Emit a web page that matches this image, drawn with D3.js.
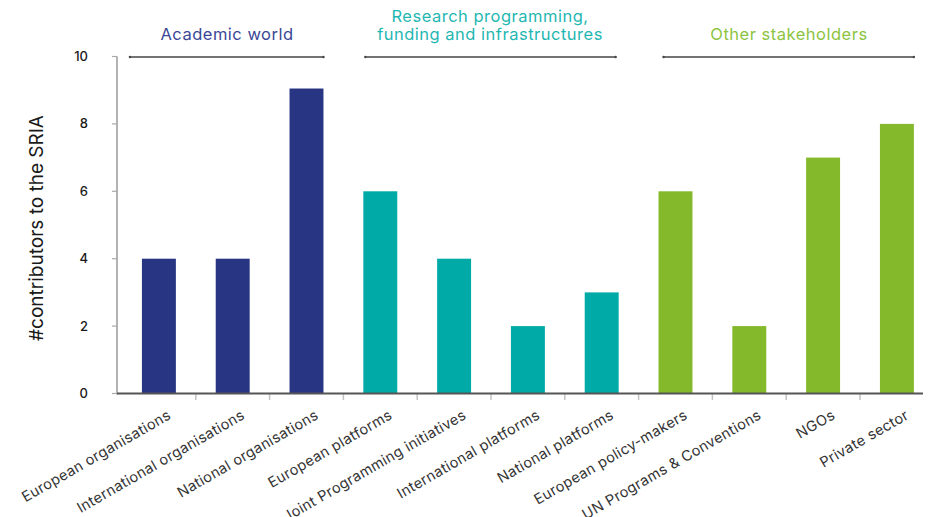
<!DOCTYPE html>
<html><head><meta charset="utf-8">
<script src="https://cdn.jsdelivr.net/npm/d3@7"></script>
<style>body{margin:0;background:#fff}svg{display:block}text{font-family:Inter,"Open Sans",sans-serif}</style>
</head><body><svg id="c" width="928" height="517"></svg>
<script>
const categories = ["European organisations","International organisations","National organisations","European platforms","Joint Programming initiatives","International platforms","National platforms","European policy-makers","UN Programs & Conventions","NGOs","Private sector"];
const values = [4,4,9.05,6,4,2,3,6,2,7,8];
const groupOf = [0,0,0,1,1,1,1,2,2,2,2];
const groupNames = [["Academic world"],["Research programming,","funding and infrastructures"],["Other stakeholders"]];
const groupFirst = [0,3,7];
const groupLast = [2,6,10];
const yTicks = [0,2,4,6,8,10];
const yLabel = "#contributors to the SRIA";

const barColors = ["#283583","#00aaa7","#83b92a"];
const titleColors = ["#3a4796","#1fb7b2","#8cc43f"];
const lineAdj = [[-12,0],[2,-3],[5,0]];
const titleX = [227,490,789];

const svg = d3.select("#c");
const x = d3.scaleBand().domain(categories).range([122, 933.8]).paddingInner(0.54).paddingOuter(0.27);
const y = d3.scaleLinear().domain([0,10]).range([393.5,56.5]);
const bw = x.bandwidth(), step = x.step();

// y axis
svg.append("line").attr("x1",117).attr("x2",117).attr("y1",y(10)).attr("y2",y(0)+1).attr("stroke","#8a8a8a").attr("stroke-width",1.3);
const yt = svg.append("g");
yt.selectAll("line").data(yTicks).join("line").attr("x1",112).attr("x2",117).attr("y1",d=>y(d)).attr("y2",d=>y(d)).attr("stroke","#aaa").attr("stroke-width",1.2);
yt.selectAll("text").data(yTicks).join("text").attr("x",88).attr("y",d=>y(d)+4.5).attr("text-anchor","end").attr("font-size",13).attr("font-weight",500).attr("fill","#1a1a1a").text(d=>d);

svg.append("text").attr("transform","translate(43,228) rotate(-90)").attr("text-anchor","middle").attr("font-size",19).attr("fill","#1a1a1a").text(yLabel);

// bars
svg.append("g").selectAll("rect").data(categories).join("rect")
  .attr("x",d=>x(d)).attr("width",bw)
  .attr("y",(d,i)=>y(values[i])).attr("height",(d,i)=>y(0)-y(values[i]))
  .attr("fill",(d,i)=>barColors[groupOf[i]]);

// x baseline and ticks
svg.append("g").selectAll("line").data(categories.slice(0,-1)).join("line")
  .attr("x1",d=>x(d)+bw+(step-bw)/2).attr("x2",d=>x(d)+bw+(step-bw)/2)
  .attr("y1",394).attr("y2",400).attr("stroke","#c4c4c4").attr("stroke-width",1.5);
svg.append("line").attr("x1",117).attr("x2",923).attr("y1",y(0)).attr("y2",y(0)).attr("stroke","#555").attr("stroke-width",1.8);

// x labels
svg.append("g").selectAll("text").data(categories).join("text")
  .attr("transform",d=>`translate(${x(d)+bw/2+13},${418}) rotate(-30)`)
  .attr("text-anchor","end").attr("font-size",14.5).attr("letter-spacing",0.35).attr("fill","#333").text(d=>d);

// group titles and lines
groupNames.forEach((g,gi)=>{
  const x0 = x(categories[groupFirst[gi]])+lineAdj[gi][0];
  const x1 = x(categories[groupLast[gi]])+bw+lineAdj[gi][1];
  svg.append("line").attr("x1",x0).attr("x2",x1).attr("y1",57).attr("y2",57).attr("stroke","#444").attr("stroke-width",1.3);
  svg.append("circle").attr("cx",x0).attr("cy",57).attr("r",1.2).attr("fill","#444");
  svg.append("circle").attr("cx",x1).attr("cy",57).attr("r",1.2).attr("fill","#444");
  g.forEach((t,li)=>{
    svg.append("text").attr("x",titleX[gi]).attr("y",40-(g.length-1-li)*18).attr("text-anchor","middle")
      .attr("font-size",16.5).attr("letter-spacing",0.5).attr("fill",titleColors[gi]).text(t);
  });
});
</script></body></html>
